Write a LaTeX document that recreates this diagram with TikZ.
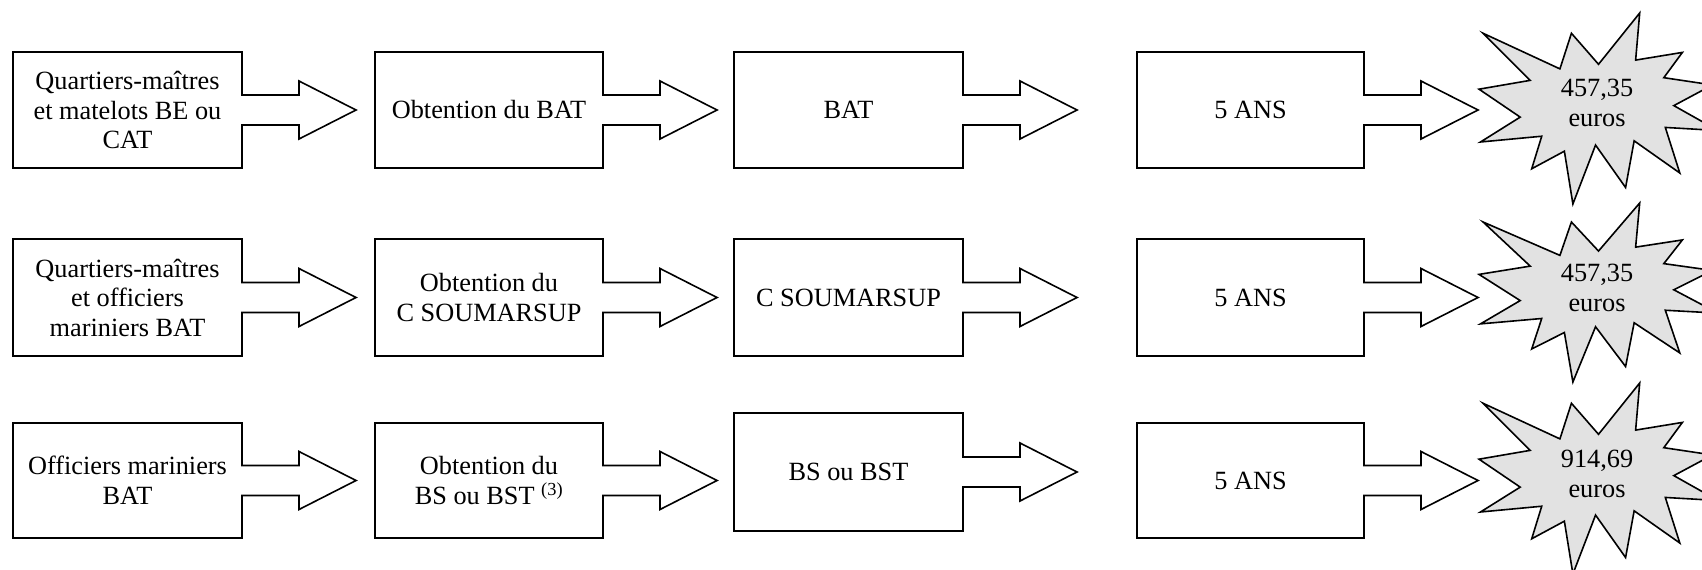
\documentclass[tikz,border=0pt]{standalone}
\usepackage{fontspec}
\setmainfont{Liberation Serif}
\usetikzlibrary{calc}
\definecolor{burstgray}{RGB}{226,226,226}
\newcommand\calloutbox[1]{%
  \draw[outline] (#1.north west) -- (#1.north east) -- ($(#1.east)+(0,-15)$) -- ++(57,0) -- ++(0,-14)
    -- ($(#1.east)+(114,0)$) -- ($(#1.east)+(57,29)$) -- ++(0,-14) -- ($(#1.east)+(0,15)$)
    -- (#1.south east) -- (#1.south west) -- cycle;}
\newcommand\burstshape[2]{%
  \begin{scope}[shift={(1479,#1)}, xscale=1.1065, yscale=#2/216]
    \draw[burst] (108,58) -- (145.22,0) -- (141.55,53.25) -- (183.80,44.57) -- (167.02,73.15)
      -- (210.97,81.37) -- (176.07,104.75) -- (216,132.90) -- (168.37,129.42) -- (181.45,180.95)
      -- (140.20,144.57) -- (132.47,197.37) -- (105.32,149.35) -- (84.85,216) -- (77.15,156.27)
      -- (47.62,176.17) -- (56.67,139.37) -- (1.35,145.87) -- (37.22,117.75) -- (0,86.15)
      -- (46.27,76.17) -- (3.70,22.95) -- (73.12,63.20) -- (83.52,22.95) -- cycle;
  \end{scope}}
\begin{document}
\begin{tikzpicture}[x=1pt,y=-1pt,
  box/.style={inner sep=0pt, outer sep=0pt, align=center, font=\fontsize{26.3}{29.5}\selectfont},
  outline/.style={draw=black, line width=1.6pt, line join=miter},
  burst/.style={draw=black, fill=burstgray, line width=1.6pt, line join=miter},
  startext/.style={align=center, inner sep=0pt, font=\fontsize{26.3}{30.5}\selectfont}]
\fill[white] (0,0) rectangle (1702,570);
\useasboundingbox (0,0) rectangle (1702,570);
\clip (0,0) rectangle (1702,570);

% Row 1
\node[box, minimum width=229, minimum height=116] (a1) at (127.5,110) {Quartiers-maîtres\\et matelots BE ou\\CAT};
\node[box, minimum width=228, minimum height=116] (b1) at (489,110) {Obtention du BAT};
\node[box, minimum width=229, minimum height=116] (c1) at (848.5,110) {BAT};
\node[box, minimum width=227, minimum height=116] (d1) at (1250.5,110) {5 ANS};
% Row 2
\node[box, minimum width=229, minimum height=117] (a2) at (127.5,297.5) {Quartiers-maîtres\\et officiers\\mariniers BAT};
\node[box, minimum width=228, minimum height=117] (b2) at (489,297.5) {Obtention du\\C SOUMARSUP};
\node[box, minimum width=229, minimum height=117] (c2) at (848.5,297.5) {C SOUMARSUP};
\node[box, minimum width=227, minimum height=117] (d2) at (1250.5,297.5) {5 ANS};
% Row 3
\node[box, minimum width=229, minimum height=115] (a3) at (127.5,480.5) {Officiers mariniers\\BAT};
\node[box, minimum width=228, minimum height=115] (b3) at (489,480.5) {Obtention du\\BS ou BST \textsuperscript{(3)}};
\node[box, minimum width=229, minimum height=118] (c3) at (848.5,472) {BS ou BST};
\node[box, minimum width=227, minimum height=115] (d3) at (1250.5,480.5) {5 ANS};

\foreach \n in {a1,b1,c1,d1,a2,b2,c2,d2,a3,b3,c3,d3}{\calloutbox{\n}}

% Bursts
\burstshape{13}{191}
\node[startext] (s1) at (1597,103) {457,35\\euros};
\burstshape{203}{179}
\node[startext] (s2) at (1597,288) {457,35\\euros};
\burstshape{383}{191}
\node[startext] (s3) at (1597,474) {914,69\\euros};
\end{tikzpicture}
\end{document}
